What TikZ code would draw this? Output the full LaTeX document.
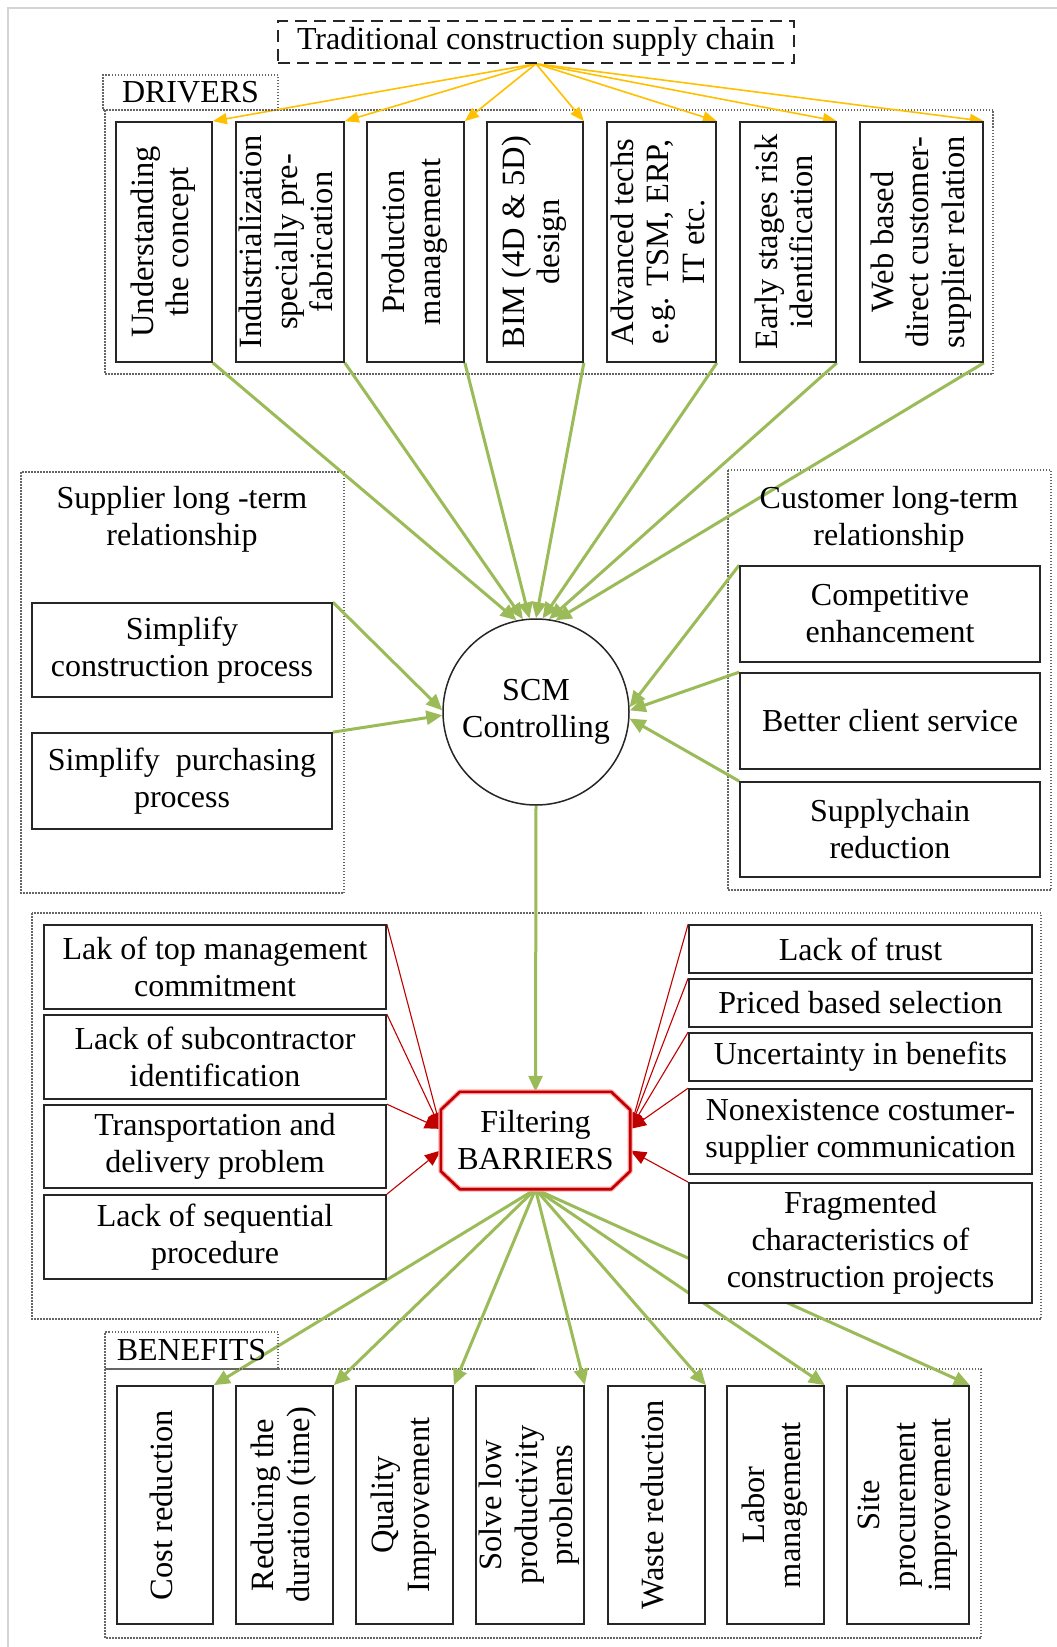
\documentclass[tikz,border=0pt]{standalone}
\usepackage{fontspec}
\setmainfont{Liberation Serif}
\usepackage{graphicx}
\usetikzlibrary{arrows.meta,calc}

\definecolor{scgreen}{HTML}{9BBB59}
\definecolor{scgold}{HTML}{FFC000}
\definecolor{scred}{HTML}{C00000}
\definecolor{pageframe}{HTML}{D4D4D4}

% vertical (rotated) multi-line label
\newcommand{\vlab}[1]{\rotatebox{90}{\begin{tabular}{@{}c@{}}#1\end{tabular}}}

\pgfdeclarelayer{bg}
\pgfsetlayers{bg,main}

\tikzset{
  txt/.style={font=\fontsize{32}{37}\selectfont, align=center, inner sep=0pt},
  box/.style={txt, draw=black!85, fill=white, line width=1.7pt},
  vbox/.style={box, font=\fontsize{32.5}{35.5}\selectfont},
  grp/.style={draw=black!60, line width=1.5pt, dash pattern=on 1.5pt off 1.5pt},
  tag/.style={txt, draw=black!60, line width=1.5pt, dash pattern=on 1.5pt off 1.5pt},
  gline/.style={draw=scgreen, line width=3pt, -{Triangle[length=16pt,width=14pt]}},
  yline/.style={draw=scgold, line width=1.6pt, -{Triangle[length=14pt,width=11pt]}},
  rline/.style={draw=scred, line width=1.1pt, -{Triangle[length=16pt,width=13pt]}},
}

\begin{document}
\begin{tikzpicture}[x=1pt, y=-1pt]
\useasboundingbox (0,0) rectangle (1057,1647);

% ---------- title ----------
\node[txt, draw=black!85, line width=1.5pt, dash pattern=on 12pt off 7pt,
      minimum width=516pt, minimum height=42pt] (title) at (536,42)
      {Traditional construction supply chain};

% ---------- drivers ----------
\node[tag, minimum width=175pt, minimum height=35pt] (drvtag) at (190.5,92.5) {DRIVERS};
\node[vbox, minimum width=96pt,  minimum height=240pt] (d1) at (164,242)   {\vlab{Understanding\\the concept}};
\node[vbox, minimum width=108pt, minimum height=240pt] (d2) at (290,242)   {\vlab{Industrialization\\specially pre-\\fabrication}};
\node[vbox, minimum width=97pt,  minimum height=240pt] (d3) at (415.5,242) {\vlab{Production\\management}};
\node[vbox, minimum width=96pt,  minimum height=240pt] (d4) at (535,242)   {\vlab{BIM (4D \& 5D)\\design}};
\node[vbox, minimum width=109pt, minimum height=240pt] (d5) at (661.5,242) {\vlab{Advanced techs\\e.g. TSM, ERP,\\IT etc.}};
\node[vbox, minimum width=96pt,  minimum height=240pt] (d6) at (788,242)   {\vlab{Early stages risk\\identification}};
\node[vbox, minimum width=123pt, minimum height=240pt] (d7) at (921.5,242) {\vlab{Web based\\direct customer-\\supplier relation}};

% ---------- SCM core ----------
\node[txt, circle, draw=black!85, fill=white, line width=1.5pt, minimum size=186pt] (scm) at (536,712)
      {SCM\\Controlling};

% ---------- supplier side ----------
\node[txt] (suphead) at (182,519) {Supplier long -term\\relationship};
\node[box, minimum width=300pt, minimum height=94pt] (sp1) at (182,650) {Simplify\\construction process};
\node[box, minimum width=300pt, minimum height=96pt] (sp2) at (182,781) {Simplify\ \ purchasing\\process};

% ---------- customer side ----------
\node[txt] (cushead) at (889,519) {Customer long-term\\relationship};
\node[box, minimum width=300pt, minimum height=96pt] (cu1) at (890,614)   {Competitive\\enhancement};
\node[box, minimum width=300pt, minimum height=96pt] (cu2) at (890,721)   {Better client service};
\node[box, minimum width=300pt, minimum height=95pt] (cu3) at (890,829.5) {Supplychain\\reduction};

% ---------- barriers ----------
\node[txt, minimum width=189pt, minimum height=97pt] (fb) at (535.5,1140.5) {Filtering\\BARRIERS};

\node[box, minimum width=342pt, minimum height=84pt] (lb1) at (215,967)    {Lak of top management\\commitment};
\node[box, minimum width=342pt, minimum height=84pt] (lb2) at (215,1057)   {Lack of subcontractor\\identification};
\node[box, minimum width=342pt, minimum height=83pt] (lb3) at (215,1146.5) {Transportation and\\delivery problem};
\node[box, minimum width=342pt, minimum height=84pt] (lb4) at (215,1237)   {Lack of sequential\\procedure};

\node[box, minimum width=343pt, minimum height=48pt]  (rb1) at (860.5,949)    {Lack of trust};
\node[box, minimum width=343pt, minimum height=48pt]  (rb2) at (860.5,1003)   {Priced based selection};
\node[box, minimum width=343pt, minimum height=48pt]  (rb3) at (860.5,1057)   {Uncertainty in benefits};
\node[box, minimum width=343pt, minimum height=85pt]  (rb4) at (860.5,1131.5) {Nonexistence costumer-\\supplier communication};
\node[box, minimum width=343pt, minimum height=120pt] (rb5) at (860.5,1243)   {Fragmented\\characteristics of\\construction projects};

% ---------- benefits ----------
\node[tag, minimum width=173pt, minimum height=37pt] (bentag) at (191.5,1350.5) {BENEFITS};
\node[vbox, minimum width=96pt,  minimum height=238pt] (b1) at (165,1505)   {\vlab{Cost reduction}};
\node[vbox, minimum width=97pt,  minimum height=238pt] (b2) at (284.5,1505) {\vlab{Reducing the\\duration (time)}};
\node[vbox, minimum width=97pt,  minimum height=238pt] (b3) at (404.5,1505) {\vlab{Quality\\Improvement}};
\node[vbox, minimum width=108pt, minimum height=238pt] (b4) at (530,1505)   {\vlab{Solve low\\productivity\\problems}};
\node[vbox, minimum width=97pt,  minimum height=238pt] (b5) at (656.5,1505) {\vlab{Waste reduction}};
\node[vbox, minimum width=97pt,  minimum height=238pt] (b6) at (775.5,1505) {\vlab{Labor\\management}};
\node[vbox, minimum width=122pt, minimum height=238pt] (b7) at (908,1505)   {\vlab{Site\\procurement\\improvement}};

% octagonal outline of the filter node
\draw[red!35, line width=5pt, line join=round]
  ($(fb.north west)+(19,0)$) -- ($(fb.north east)+(-19,0)$) -- ($(fb.north east)+(0,18)$) --
  ($(fb.south east)+(0,-18)$) -- ($(fb.south east)+(-19,0)$) -- ($(fb.south west)+(19,0)$) --
  ($(fb.south west)+(0,-18)$) -- ($(fb.north west)+(0,18)$) -- cycle;
\draw[scred, line width=2.6pt, line join=round]
  ($(fb.north west)+(19,0)$) -- ($(fb.north east)+(-19,0)$) -- ($(fb.north east)+(0,18)$) --
  ($(fb.south east)+(0,-18)$) -- ($(fb.south east)+(-19,0)$) -- ($(fb.south west)+(19,0)$) --
  ($(fb.south west)+(0,-18)$) -- ($(fb.north west)+(0,18)$) -- cycle;

\begin{pgfonlayer}{bg}
  \fill[white] (0,0) rectangle (1057,1647);
  \draw[pageframe, line width=2pt] (8,1647) -- (8,8) -- (1057,8);

  % dotted group frames
  \draw[grp] (105,110) rectangle (993,374);
  \draw[grp] (21,472) rectangle (344,893);
  \draw[grp] (728,470) rectangle (1051,890);
  \draw[grp] (32,913) rectangle (1041,1319);
  \draw[grp] (105,1369) rectangle (981,1638);

  % supply chain -> drivers
  \foreach \i in {1,...,7} \draw[yline] (title.south) -- (d\i.north east);

  % drivers -> SCM
  \draw[gline] (d1.south east) -- (scm.102);
  \draw[gline] (d2.south east) -- (scm.98);
  \draw[gline] (d3.south east) -- (scm.94);
  \draw[gline] (d4.south east) -- (scm.90);
  \draw[gline] (d5.south east) -- (scm.86);
  \draw[gline] (d6.south east) -- (scm.82);
  \draw[gline] (d7.south east) -- (scm.78);

  % relationships -> SCM
  \draw[gline] (sp1.north east) -- (scm.179);
  \draw[gline] (sp2.north east) -- (scm.182);
  \draw[gline] (cu1.north west) -- (scm.3);
  \draw[gline] (cu2.north west) -- (scm.1);
  \draw[gline] (cu3.north west) -- (scm.356);

  % SCM -> filter
  \draw[gline] (scm.south) -- (fb.north);

  % barriers -> filter
  \draw[rline] (lb1.north east) -- (fb.173);
  \draw[rline] (lb2.north east) -- (fb.173);
  \draw[rline] (lb3.north east) -- (fb.173);
  \draw[rline] (lb4.north east) -- (fb.186);
  \draw[rline] (rb1.north west) -- (fb.7);
  \draw[rline] (rb2.north west) -- (fb.7);
  \draw[rline] (rb3.north west) -- (fb.7);
  \draw[rline] (rb4.north west) -- (fb.7);
  \draw[rline] (rb5.north west) -- (fb.354);

  % filter -> benefits
  \foreach \i in {1,...,7} \draw[gline] (fb.south) -- (b\i.north east);
\end{pgfonlayer}
\end{tikzpicture}
\end{document}
